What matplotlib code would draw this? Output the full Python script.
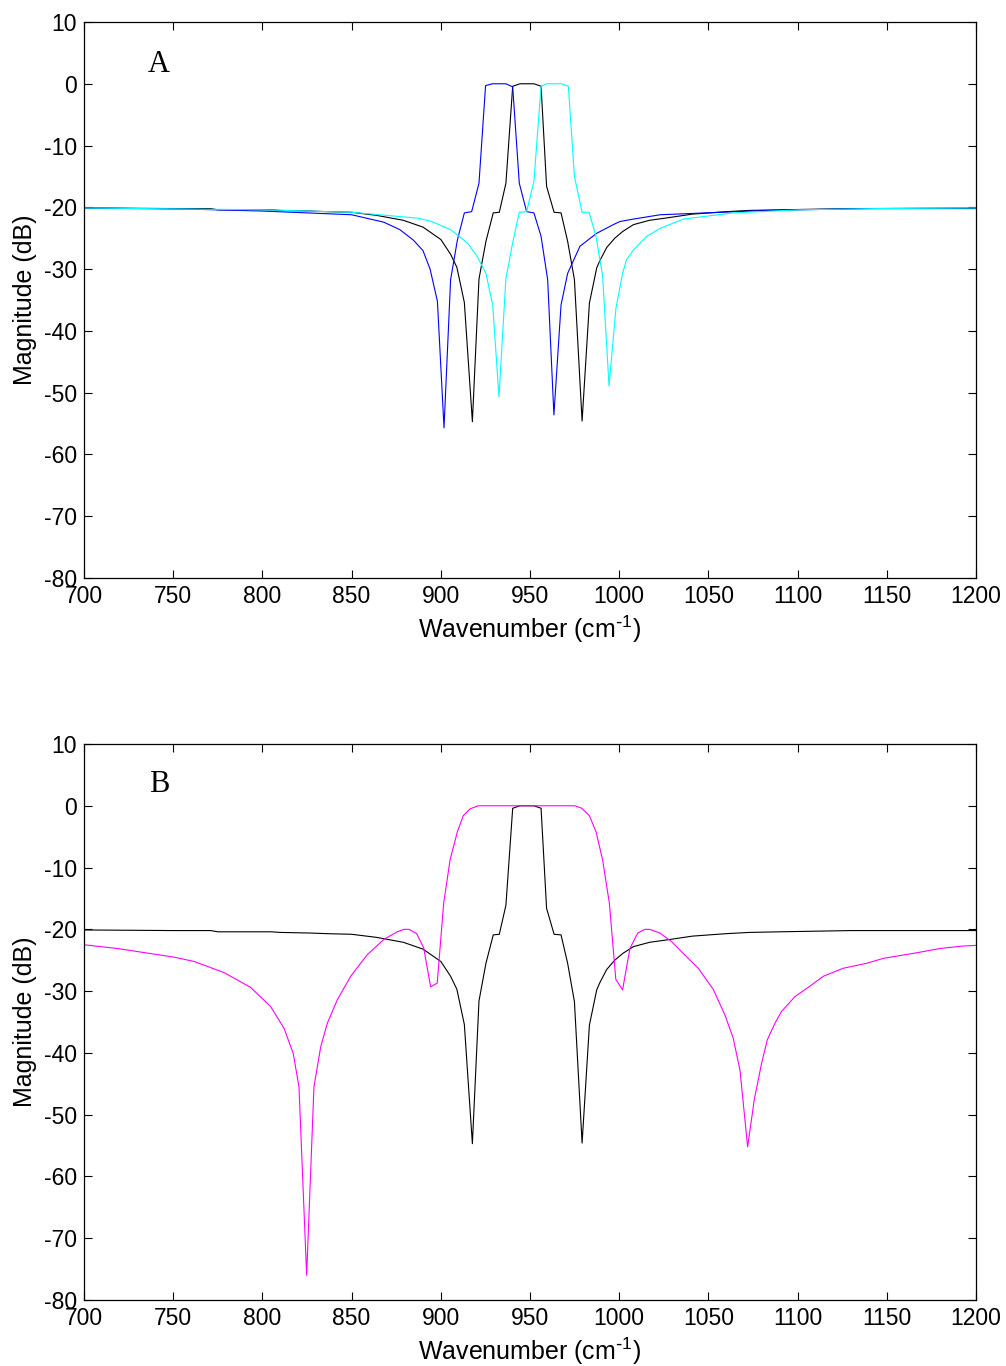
import matplotlib
matplotlib.use("Agg")
import matplotlib.pyplot as plt

plt.rcParams['font.family'] = ['Liberation Sans', 'DejaVu Sans']
plt.rcParams['mathtext.default'] = 'regular'
plt.rcParams['axes.unicode_minus'] = False

# ---------------- data ----------------
black_x = [700, 750, 771, 775, 805, 810, 827, 836, 850, 864, 879, 890, 900, 905.5, 909,
           913.2, 917.7, 921.4, 925.3, 929.4, 932.8, 936.5, 940.3, 944.4, 952.2, 956.2,
           959.3, 963.5, 967.4, 971.1, 974.9, 979.2, 983.3, 987.4, 989.2, 993, 997.5, 1002,
           1008, 1017, 1027, 1041, 1060, 1073, 1090, 1130, 1200]
black_y = [-20.1, -20.2, -20.2, -20.4, -20.4, -20.5, -20.6, -20.7, -20.8, -21.3, -22.1,
           -23.2, -25.2, -27.6, -29.7, -35.4, -54.7, -31.6, -25.5, -20.9, -20.8, -16.1,
           -0.4, 0, 0, -0.4, -16.6, -20.8, -20.9, -25.5, -31.7, -54.6, -35.5, -29.8,
           -28.6, -26.5, -25.0, -23.9, -22.8, -22.1, -21.7, -21.1, -20.7, -20.5, -20.4, -20.2, -20.2]

blue_x = [700, 760, 800, 850, 868, 877, 884.6, 890, 894, 898.1, 901.8, 905.5, 909.3,
          913.2, 917.3, 921.4, 925.1, 928.9, 936.5, 940.3, 944.0, 948.1, 952.2, 956.2,
          959.9, 963.4, 967.4, 971.1, 978, 987.4, 996.7, 1000.4, 1008, 1023, 1083,
          1139, 1200]
blue_y = [-20.1, -20.3, -20.6, -21.2, -22.4, -23.6, -25.3, -27.0, -30.0, -35.2, -55.7,
          -31.7, -25.3, -20.9, -20.7, -16.1, -0.3, 0, 0, -0.5, -16.1, -20.7, -20.9,
          -24.7, -31.7, -53.6, -35.8, -30.7, -26.3, -24.2, -22.8, -22.3, -21.9, -21.2,
          -20.5, -20.2, -20.1]

cyan_x = [700, 800, 850, 887, 894, 905.5, 909, 915, 920.1, 925.3, 929.1, 932.6, 936.5, 940.3,
          944.0, 948.1, 952.2, 956.2, 959.3, 967.7, 971.5, 974.9, 979.2, 983.1, 987.0,
          990.7, 994.3, 998.2, 1001.9, 1004.1, 1008, 1015.4, 1023, 1036, 1064, 1101,
          1145, 1200]
cyan_y = [-20.1, -20.4, -20.8, -21.75, -22.2, -23.6, -24.4, -25.8, -27.8, -30.7, -35.8, -50.7,
          -31.5, -25.7, -20.8, -20.7, -15.8, -0.4, 0, 0, -0.4, -15.0, -20.8, -20.8,
          -24.7, -31.1, -48.9, -36.3, -30.7, -28.5, -26.9, -24.7, -23.4, -21.9, -20.9,
          -20.4, -20.2, -20.1]

magenta_x = [700, 718.7, 750.4, 761.7, 778.5, 793.4, 804.6, 812.1, 817.3, 820.5, 824.8,
             828.9, 832.7, 836.4, 842.0, 849.5, 858.8, 868.2, 875.6, 879.4, 882.2, 886.5,
             890.4, 894.3, 898.0, 901.6, 905.2, 909.3, 912.6, 916.4, 921.0, 975.2, 979.0,
             983.3, 987.0, 990.7, 994.5, 998.1, 1001.9, 1006.0, 1010.4, 1014.4, 1017.2,
             1022.8, 1029.4, 1035.9, 1044.3, 1052.7, 1059.3, 1063.9, 1067.7, 1072.0,
             1075.7, 1079.8, 1083.0, 1087.3, 1091.0, 1098.5, 1106.9, 1114.4, 1125.6,
             1138.7, 1148.0, 1166.7, 1179.8, 1192.9, 1200]
magenta_y = [-22.5, -23.1, -24.5, -25.2, -27.0, -29.4, -32.5, -36.0, -40.1, -45.5, -76.0,
             -45.5, -39.0, -35.2, -31.4, -27.6, -24.1, -21.6, -20.4, -20.0, -20.0, -20.7,
             -23.0, -29.3, -28.7, -15.8, -8.75, -4.2, -1.6, -0.5, 0, 0, -0.4,
             -1.6, -4.2, -8.75, -15.8, -28.1, -29.8, -23.1, -20.6, -20.0, -20.0,
             -20.6, -22.0, -23.9, -26.3, -29.7, -33.9, -37.6, -42.8, -55.2,
             -47.6, -41.7, -37.9, -35.2, -33.3, -30.9, -29.2, -27.6, -26.3,
             -25.5, -24.7, -23.8, -23.1, -22.7, -22.6]

x_ticks = list(range(700, 1201, 50))
y_ticks = list(range(-80, 11, 10))
panel_labels = ['A', 'B']

# ---------------- figure ----------------
fig = plt.figure(figsize=(10.06, 13.66), dpi=100)
W, H = 1006, 1366
axA = fig.add_axes([84 / W, 1 - 578 / H, 892 / W, 556 / H])
axB = fig.add_axes([84 / W, 1 - 1300 / H, 892 / W, 556 / H])

lw = 0.8
axA.plot(black_x, black_y, color='black', lw=lw)
axA.plot(blue_x, blue_y, color='blue', lw=lw)
axA.plot(cyan_x, cyan_y, color='cyan', lw=lw)

axB.plot(black_x, black_y, color='black', lw=lw)
axB.plot(magenta_x, magenta_y, color='magenta', lw=lw)

for ax, lab, ly in zip([axA, axB], panel_labels, [3.1, 3.4]):
    ax.set_xlim(700, 1200)
    ax.set_ylim(-80, 10)
    ax.set_xticks(x_ticks)
    ax.set_yticks(y_ticks)
    ax.tick_params(direction='in', length=6, width=0.8, top=True, right=True,
                   labelsize=16.5, pad=5)
    for s in ax.spines.values():
        s.set_linewidth(0.9)
    ax.set_xlabel('Wavenumber (cm$^{\\text{-}1}$)', fontsize=18, labelpad=4)
    ax.set_ylabel('Magnitude (dB)', fontsize=18, labelpad=5)
    ax.text(742, ly, lab, fontsize=22, family=['Liberation Serif', 'DejaVu Serif'],
            ha='center', va='center')

fig.savefig('out.png', dpi=100, facecolor='white')
